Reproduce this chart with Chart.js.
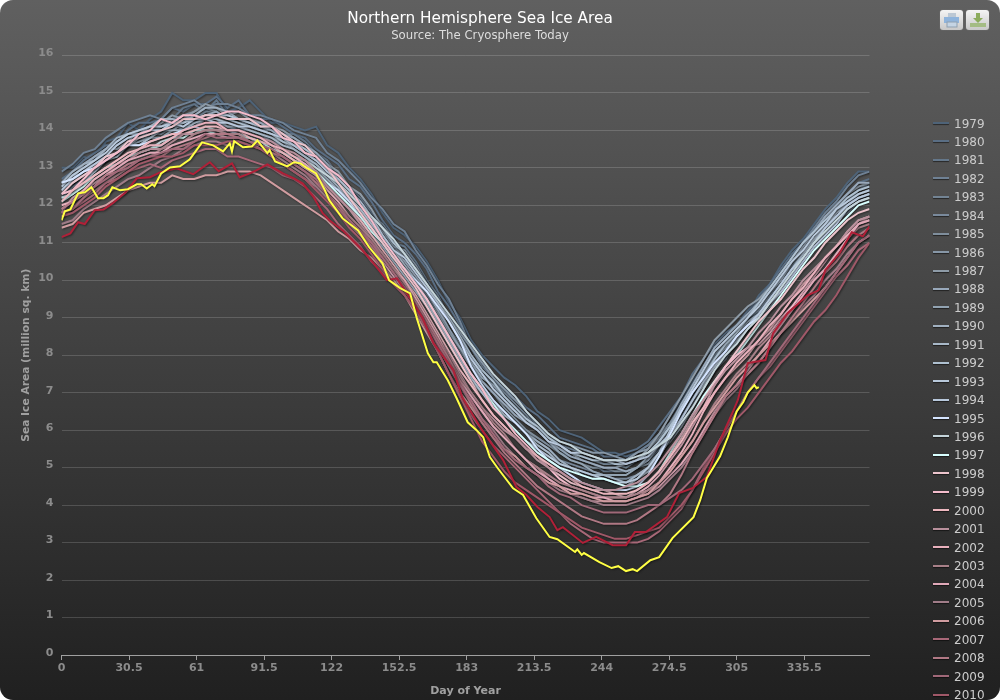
<!DOCTYPE html>
<html>
<head>
<meta charset="utf-8">
<title>Northern Hemisphere Sea Ice Area</title>
<script src="https://cdn.jsdelivr.net/npm/chart.js@4/dist/chart.umd.min.js"></script>
<style>
html, body { margin: 0; padding: 0; background: #fff; overflow: hidden; }
#wrap { position: relative; width: 1000px; height: 700px; overflow: hidden; border-radius: 13px;
  background: linear-gradient(to bottom, #606060 0%, #202020 100%); }
#seaIce { position: absolute; left: 0; top: 0; }
#legend { position: absolute; left: 933px; top: 114.5px; font: 12px "DejaVu Sans", sans-serif; color: #ccc; }
#legend div { height: 18.45px; line-height: 18.45px; white-space: nowrap; }
#legend i { display: inline-block; width: 16px; height: 2px; margin-right: 5px; vertical-align: middle; position: relative; top: -1px; box-shadow: 0 1px 1px rgba(0,0,0,.5); }
.btn { position: absolute; top: 10px; width: 23px; height: 20px; border-radius: 3px; background: linear-gradient(#f4f4f4, #c8c8c8); box-shadow: 0 0 1px #999; }
.btn svg { position: absolute; left: 2px; top: 1px; }
</style>
</head>
<body>
<div id="wrap">
  <canvas id="seaIce" width="1000" height="700"></canvas>
  <div id="legend"></div>
  <div class="btn" style="left:940px"><svg width="19" height="18"><rect x="6" y="2" width="8" height="5" fill="#bcc8d4"/><rect x="2" y="6" width="15" height="6" fill="#8fb4dc"/><rect x="5" y="11" width="10" height="5" fill="#c4d4e4" stroke="#8fa0b0"/></svg></div>
  <div class="btn" style="left:966px"><svg width="19" height="18"><rect x="8" y="2" width="4" height="5" fill="#8cac5c"/><path d="M5 7h10l-5 5z" fill="#8cac5c"/><rect x="2" y="12" width="16" height="4" fill="#a4bc84"/></svg></div>
</div>
<script>
var years = ['1979','1980','1981','1982','1983','1984','1985','1986','1987','1988','1989','1990','1991','1992','1993','1994','1995','1996','1997','1998','1999','2000','2001','2002','2003','2004','2005','2006','2007','2008','2009','2010','2011','2012'];

var colors = ['#4e6378','#5a6e84','#64778a','#6f8194','#738494','#7a8a9c','#7f8e9c','#8797a7','#8e9ba7','#98a8ba','#92a3b2','#a0b0c0','#a8b8c8','#aec0d0','#b8c8da','#b8c8dc','#d4e4ff','#c4d4da','#d8ffff','#ecc4cc','#f4bccc','#eeb8c0','#b8909c','#e8b0bc','#a88088','#e0a8b8','#a07c88','#d09ca0','#a86878','#b07884','#a06878','#a05868','#b02038','#ffff44'];

// sampled every 5 days
var days = [0,5,10,15,20,25,30,35,40,45,50,55,60,65,70,75,80,85,90,95,100,105,110,115,120,125,130,135,140,145,150,155,160,165,170,175,180,185,190,195,200,205,210,215,220,225,230,235,240,245,250,255,260,265,270,275,280,285,290,295,300,305,310,315,320,325,330,335,340,345,350,355,360,365];

var y1979 = [13.0,13.0,13.3,13.2,13.7,13.8,14.2,14.0,14.3,14.5,15.0,14.8,14.8,15.0,15.0,14.5,14.6,14.8,14.5,14.2,14.2,14.1,14.0,14.1,13.6,13.4,13.0,12.7,12.3,11.8,11.4,11.2,10.9,10.5,10.0,9.4,9.0,8.4,8.0,7.7,7.4,7.2,6.9,6.5,6.3,6.0,5.9,5.8,5.6,5.4,5.4,5.3,5.4,5.6,5.9,6.4,6.8,7.3,7.7,8.2,8.5,8.8,9.1,9.6,9.9,10.4,10.8,11.1,11.5,11.9,12.2,12.6,12.9,12.9];
var y1980 = [12.7,12.9,13.2,13.4,13.6,13.6,14.0,14.2,14.2,14.3,14.6,14.5,14.7,14.7,14.9,14.6,14.8,14.4,14.3,14.3,14.1,13.9,13.8,13.5,13.3,13.1,12.7,12.5,12.1,11.6,11.2,11.0,10.7,10.3,9.7,9.3,8.8,8.2,7.8,7.4,7.1,6.9,6.6,6.4,6.1,5.8,5.7,5.6,5.5,5.3,5.3,5.4,5.5,5.7,6.1,6.5,6.9,7.5,7.9,8.3,8.6,8.8,9.2,9.5,9.9,10.3,10.7,11.0,11.4,11.6,12.0,12.3,12.6,12.7];
var y1981 = [12.4,12.8,13.0,13.1,13.4,13.7,13.8,13.7,14.0,14.1,14.3,14.6,14.7,14.5,14.8,14.4,14.3,14.2,14.1,14.0,13.9,13.9,13.7,13.4,13.2,12.8,12.5,12.2,11.8,11.5,11.0,10.9,10.5,10.0,9.6,9.0,8.6,8.0,7.5,7.2,6.8,6.6,6.2,6.0,5.7,5.4,5.3,5.2,5.1,4.9,4.9,4.9,5.0,5.2,5.5,5.9,6.4,6.9,7.3,7.9,8.2,8.6,8.9,9.2,9.6,10.1,10.5,10.8,11.2,11.5,11.9,12.1,12.4,12.6];
var y1982 = [12.9,13.1,13.4,13.5,13.8,14.0,14.2,14.3,14.4,14.3,14.6,14.7,14.8,14.6,14.7,14.7,14.6,14.4,14.4,14.3,14.2,14.0,13.9,13.8,13.4,13.2,12.9,12.6,12.2,11.9,11.5,11.3,10.8,10.4,9.9,9.5,8.9,8.2,7.7,7.4,7.0,6.8,6.5,6.1,5.9,5.6,5.5,5.4,5.3,5.2,5.2,5.2,5.4,5.6,5.9,6.2,6.7,7.1,7.5,8.0,8.3,8.7,9.0,9.5,9.8,10.1,10.6,11.0,11.4,11.8,12.1,12.5,12.8,12.9];
var y1983 = [12.5,12.6,12.9,13.2,13.3,13.4,13.7,13.9,13.9,14.1,14.2,14.0,14.3,14.5,14.5,14.3,14.2,14.2,14.0,13.9,13.8,13.8,13.6,13.3,13.0,12.7,12.4,12.1,11.7,11.5,11.1,10.7,10.4,9.9,9.5,9.0,8.5,8.0,7.6,7.3,7.0,6.7,6.4,6.0,5.8,5.6,5.4,5.3,5.2,5.1,5.1,5.0,5.2,5.3,5.6,6.0,6.5,7.1,7.5,8.0,8.3,8.6,9.0,9.2,9.6,10.0,10.4,10.7,11.1,11.4,11.8,12.1,12.4,12.5];
var y1984 = [12.2,12.5,12.7,13.0,13.2,13.3,13.6,13.7,13.9,13.9,14.1,14.3,14.2,14.3,14.2,14.1,14.0,14.0,13.9,13.7,13.6,13.5,13.3,13.1,12.8,12.4,12.2,11.9,11.5,11.2,10.8,10.4,10.0,9.6,9.1,8.6,8.1,7.7,7.2,6.8,6.5,6.2,6.0,5.7,5.5,5.2,5.1,5.0,4.9,4.8,4.7,4.7,4.8,5.0,5.3,5.8,6.2,6.7,7.1,7.6,7.9,8.4,8.7,9.0,9.4,9.7,10.1,10.5,10.9,11.2,11.6,11.8,12.1,12.3];
var y1985 = [12.3,12.6,12.8,13.1,13.3,13.3,13.6,13.8,13.8,14.1,14.3,14.4,14.5,14.6,14.5,14.3,14.3,14.3,14.1,14.1,13.9,13.6,13.5,13.3,13.0,12.8,12.4,12.0,11.7,11.4,10.9,10.6,10.3,9.8,9.2,8.7,8.3,7.8,7.3,7.0,6.6,6.3,6.0,5.8,5.6,5.4,5.2,5.1,5.0,5.0,4.9,4.9,5.0,5.1,5.4,5.7,6.1,6.6,7.1,7.6,8.0,8.3,8.7,9.1,9.4,9.8,10.2,10.6,11.0,11.2,11.6,11.9,12.2,12.3];
var y1986 = [12.4,12.7,12.9,13.2,13.4,13.6,13.8,13.8,14.0,14.1,14.1,14.3,14.4,14.3,14.4,14.4,14.3,14.1,14.0,14.0,13.7,13.6,13.4,13.3,13.0,12.7,12.4,12.0,11.6,11.3,10.9,10.8,10.4,9.9,9.4,9.0,8.6,8.2,7.8,7.4,7.1,6.8,6.5,6.2,5.9,5.7,5.6,5.5,5.4,5.4,5.3,5.2,5.4,5.5,5.8,6.2,6.6,7.0,7.4,7.9,8.2,8.5,8.9,9.1,9.5,9.9,10.3,10.7,11.1,11.3,11.7,12.0,12.3,12.4];
var y1987 = [12.6,12.8,13.0,13.3,13.5,13.5,13.7,14.0,14.0,14.2,14.4,14.3,14.5,14.7,14.6,14.4,14.5,14.3,14.2,14.1,14.0,13.8,13.6,13.4,13.1,12.9,12.5,12.3,11.9,11.4,11.0,10.7,10.3,9.8,9.3,8.7,8.2,7.8,7.3,7.0,6.7,6.5,6.3,6.0,5.8,5.5,5.4,5.2,5.1,5.0,5.0,5.1,5.2,5.5,5.9,6.4,6.9,7.4,7.9,8.4,8.7,9.0,9.3,9.5,9.8,10.2,10.6,11.0,11.3,11.7,12.0,12.3,12.5,12.6];
var y1988 = [12.6,12.7,13.1,13.3,13.5,13.7,13.9,14.0,14.1,14.1,14.2,14.4,14.3,14.4,14.5,14.3,14.3,14.2,14.2,14.0,13.9,13.8,13.6,13.4,13.1,12.7,12.4,12.0,11.6,11.2,10.8,10.5,10.1,9.7,9.2,8.7,8.2,7.7,7.3,7.0,6.7,6.4,6.2,6.0,5.7,5.5,5.3,5.2,5.1,5.0,5.0,4.9,5.0,5.2,5.6,6.1,6.7,7.2,7.7,8.2,8.5,8.8,9.1,9.4,9.7,10.0,10.5,10.9,11.3,11.7,12.0,12.3,12.6,12.6];
var y1989 = [12.5,12.6,12.9,13.0,13.2,13.4,13.6,13.7,13.8,13.8,14.0,14.2,14.1,14.3,14.3,14.1,14.1,14.0,13.9,13.8,13.7,13.5,13.3,13.1,12.8,12.5,12.1,11.7,11.3,11.0,10.6,10.3,9.9,9.5,9.1,8.6,8.2,7.8,7.4,7.2,6.9,6.6,6.3,6.0,5.7,5.4,5.2,5.1,4.9,4.8,4.8,4.8,5.0,5.3,5.7,6.1,6.6,7.0,7.5,7.9,8.2,8.6,8.9,9.1,9.5,9.9,10.3,10.7,11.1,11.5,11.8,12.1,12.3,12.4];
var y1990 = [12.6,12.9,13.1,13.2,13.5,13.8,13.9,13.9,14.1,14.3,14.3,14.2,14.4,14.6,14.6,14.5,14.3,14.2,14.1,14.0,13.8,13.5,13.3,13.0,12.7,12.4,12.0,11.6,11.2,10.9,10.5,10.1,9.7,9.3,8.8,8.3,7.8,7.3,7.0,6.7,6.4,6.2,5.9,5.7,5.5,5.2,5.0,4.9,4.8,4.8,4.7,4.6,4.8,5.0,5.3,5.8,6.3,6.8,7.3,7.7,8.1,8.4,8.7,9.0,9.3,9.7,10.1,10.6,11.0,11.4,11.7,12.0,12.2,12.3];
var y1991 = [12.3,12.6,12.8,12.9,13.2,13.4,13.6,13.6,13.8,14.0,14.0,14.0,14.2,14.3,14.3,14.2,14.1,14.0,13.9,13.8,13.6,13.5,13.3,13.1,12.8,12.5,12.1,11.9,11.5,11.2,10.8,10.4,10.0,9.5,9.0,8.5,8.0,7.5,7.1,6.8,6.4,6.2,5.9,5.6,5.4,5.1,5.0,4.8,4.7,4.7,4.6,4.5,4.7,4.9,5.3,5.8,6.3,6.8,7.2,7.7,8.0,8.4,8.7,9.1,9.4,9.8,10.3,10.7,11.1,11.4,11.8,12.0,12.2,12.3];
var y1992 = [12.2,12.3,12.6,12.9,13.2,13.3,13.6,13.8,13.9,14.0,14.1,14.2,14.4,14.3,14.4,14.3,14.2,14.1,14.0,13.9,13.7,13.6,13.4,13.2,13.0,12.7,12.4,12.0,11.7,11.4,11.0,10.7,10.3,9.9,9.4,9.0,8.5,8.0,7.6,7.3,6.9,6.6,6.3,6.1,5.8,5.6,5.4,5.3,5.2,5.2,5.1,5.1,5.2,5.4,5.7,6.1,6.5,7.0,7.4,7.9,8.3,8.6,9.0,9.4,9.8,10.2,10.6,11.0,11.3,11.6,11.9,12.2,12.4,12.5];
var y1993 = [12.5,12.8,13.0,13.2,13.4,13.7,13.9,14.0,14.1,14.1,14.2,14.2,14.3,14.4,14.4,14.4,14.3,14.2,14.1,14.1,13.9,13.7,13.5,13.3,12.9,12.6,12.2,11.9,11.5,11.1,10.7,10.3,9.9,9.4,8.9,8.4,7.9,7.4,7.0,6.6,6.3,6.0,5.7,5.5,5.3,5.1,5.0,4.9,4.8,4.7,4.6,4.6,4.7,5.0,5.4,6.0,6.6,7.1,7.6,8.1,8.4,8.7,9.0,9.3,9.7,10.1,10.5,10.8,11.2,11.5,11.9,12.1,12.3,12.4];
var y1994 = [12.4,12.7,12.9,13.1,13.3,13.6,13.8,13.9,14.0,14.0,14.2,14.1,14.3,14.3,14.2,14.2,14.1,14.1,14.0,13.9,13.8,13.6,13.4,13.2,12.9,12.7,12.4,12.1,11.7,11.2,10.8,10.6,10.2,9.8,9.4,8.9,8.4,7.9,7.5,7.1,6.8,6.5,6.2,6.0,5.7,5.6,5.4,5.4,5.3,5.2,5.2,5.1,5.2,5.3,5.6,5.9,6.3,6.8,7.3,7.7,8.1,8.5,8.8,9.1,9.5,9.9,10.3,10.6,11.0,11.4,11.7,12.0,12.2,12.3];
var y1995 = [12.6,12.7,12.9,13.0,13.2,13.4,13.6,13.6,13.7,13.8,13.9,14.0,14.1,14.0,14.0,14.0,13.9,13.8,13.7,13.6,13.4,13.2,13.0,12.9,12.6,12.4,12.1,11.7,11.4,11.0,10.6,10.3,10.0,9.7,9.3,8.9,8.4,7.7,7.2,6.8,6.5,6.2,5.9,5.5,5.2,5.0,4.8,4.6,4.5,4.4,4.4,4.4,4.5,4.8,5.3,5.9,6.5,7.0,7.4,7.8,8.1,8.5,8.8,9.0,9.4,9.7,10.1,10.5,10.9,11.2,11.5,11.9,12.1,12.2];
var y1996 = [12.2,12.3,12.6,12.7,12.9,13.1,13.3,13.4,13.5,13.7,13.8,13.9,13.9,14.1,14.0,13.9,13.9,13.8,13.6,13.5,13.4,13.3,13.2,13.0,12.8,12.6,12.3,12.0,11.7,11.4,11.1,10.7,10.3,9.9,9.5,9.1,8.7,8.3,7.9,7.5,7.2,6.9,6.5,6.2,5.9,5.7,5.6,5.4,5.3,5.2,5.2,5.2,5.3,5.4,5.6,5.8,6.2,6.6,7.1,7.6,8.0,8.3,8.7,9.0,9.4,9.8,10.2,10.6,11.0,11.3,11.6,11.9,12.1,12.2];
var y1997 = [12.1,12.3,12.5,12.8,13.0,13.1,13.3,13.4,13.5,13.6,13.8,13.8,14.0,14.0,13.9,13.8,13.8,13.8,13.7,13.5,13.4,13.2,13.1,12.9,12.6,12.3,12.0,11.7,11.3,11.0,10.6,10.3,9.9,9.5,9.0,8.5,8.0,7.5,7.1,6.7,6.3,6.0,5.7,5.4,5.2,5.0,4.9,4.8,4.7,4.7,4.6,4.5,4.5,4.6,4.9,5.4,5.9,6.4,6.9,7.3,7.7,8.0,8.4,8.8,9.2,9.6,10.0,10.4,10.8,11.1,11.4,11.7,12.0,12.1];
var y1998 = [12.3,12.6,12.8,13.0,13.3,13.4,13.7,13.8,13.9,14.0,14.1,14.3,14.3,14.4,14.4,14.3,14.3,14.3,14.1,14.1,13.9,13.7,13.6,13.3,13.0,12.6,12.2,11.8,11.4,11.0,10.6,10.2,9.8,9.3,8.8,8.3,7.8,7.3,6.8,6.4,6.1,5.8,5.5,5.3,5.0,4.8,4.6,4.5,4.4,4.4,4.3,4.2,4.4,4.6,4.9,5.3,5.8,6.3,6.8,7.3,7.7,8.1,8.5,8.9,9.2,9.5,9.9,10.3,10.6,11.0,11.3,11.6,11.8,11.9];
var y1999 = [12.3,12.4,12.7,13.0,13.2,13.4,13.6,13.9,14.0,14.3,14.2,14.4,14.4,14.3,14.4,14.5,14.5,14.4,14.3,14.1,13.8,13.7,13.4,13.3,13.0,12.8,12.5,12.0,11.6,11.1,10.7,10.3,9.9,9.5,9.0,8.5,8.0,7.5,7.1,6.6,6.3,5.9,5.6,5.3,5.0,4.7,4.5,4.4,4.3,4.2,4.2,4.2,4.3,4.5,4.8,5.2,5.6,6.1,6.6,7.2,7.7,8.0,8.2,8.3,8.6,9.0,9.3,9.7,10.1,10.5,10.9,11.2,11.5,11.7];
var y2000 = [12.1,12.4,12.6,12.8,13.0,13.2,13.4,13.5,13.7,13.8,13.9,13.9,14.0,14.1,14.1,14.0,14.0,13.8,13.7,13.6,13.4,13.2,13.0,12.8,12.5,12.2,11.9,11.6,11.2,10.8,10.4,10.0,9.6,9.1,8.6,8.1,7.6,7.2,6.8,6.4,6.1,5.8,5.5,5.3,5.1,4.9,4.7,4.5,4.4,4.3,4.3,4.3,4.4,4.6,4.9,5.3,5.7,6.2,6.6,7.0,7.4,7.7,8.0,8.4,8.7,9.1,9.5,9.9,10.2,10.6,10.9,11.3,11.6,11.7];
var y2001 = [11.8,12.2,12.4,12.6,12.8,13.1,13.2,13.4,13.5,13.5,13.7,13.9,13.9,14.0,14.0,14.0,14.0,13.9,13.8,13.7,13.5,13.4,13.2,12.9,12.5,12.2,11.9,11.5,11.1,10.7,10.3,9.9,9.5,9.0,8.5,8.0,7.5,7.0,6.6,6.3,6.0,5.8,5.5,5.2,5.0,4.9,4.7,4.6,4.5,4.4,4.4,4.5,4.6,4.8,5.1,5.5,5.9,6.4,6.8,7.2,7.6,7.9,8.2,8.6,8.9,9.3,9.6,10.0,10.3,10.6,10.9,11.3,11.6,11.7];
var y2002 = [12.0,12.1,12.4,12.7,12.9,13.1,13.3,13.5,13.6,13.6,13.8,14.0,14.1,14.2,14.2,14.0,14.0,13.9,13.8,13.6,13.5,13.3,13.1,12.8,12.4,12.1,11.7,11.4,11.0,10.7,10.3,10.0,9.5,9.0,8.5,7.9,7.4,6.9,6.5,6.1,5.8,5.5,5.2,5.0,4.7,4.5,4.3,4.2,4.1,4.1,4.1,4.1,4.2,4.4,4.6,5.0,5.4,5.9,6.5,7.0,7.4,7.8,8.1,8.4,8.8,9.1,9.5,9.8,10.2,10.6,10.9,11.2,11.5,11.6];
var y2003 = [11.7,11.9,12.2,12.4,12.6,12.8,13.0,13.2,13.3,13.5,13.6,13.7,13.9,14.0,14.0,13.9,13.9,13.7,13.6,13.4,13.3,13.1,12.9,12.6,12.3,12.0,11.7,11.4,11.1,10.7,10.3,9.9,9.4,8.9,8.4,7.9,7.4,7.0,6.6,6.2,5.9,5.5,5.2,5.0,4.8,4.6,4.5,4.4,4.3,4.2,4.2,4.2,4.3,4.4,4.6,4.9,5.3,5.7,6.2,6.7,7.1,7.5,7.8,8.2,8.5,8.9,9.2,9.6,10.0,10.3,10.7,11.1,11.4,11.5];
var y2004 = [11.9,12.1,12.3,12.5,12.8,13.0,13.2,13.3,13.4,13.4,13.6,13.7,13.8,13.9,13.9,13.8,13.8,13.7,13.5,13.3,13.1,12.9,12.7,12.5,12.2,11.9,11.6,11.3,10.9,10.5,10.1,9.7,9.3,8.8,8.3,7.8,7.3,6.9,6.5,6.1,5.8,5.5,5.2,4.9,4.7,4.5,4.4,4.3,4.2,4.2,4.1,4.1,4.2,4.3,4.5,4.8,5.1,5.5,6.0,6.5,6.9,7.2,7.6,8.0,8.4,8.8,9.2,9.6,10.0,10.3,10.7,11.1,11.5,11.6];
var y2005 = [11.5,11.6,11.9,12.1,12.3,12.5,12.7,12.8,13.0,13.2,13.3,13.5,13.6,13.7,13.7,13.6,13.7,13.6,13.5,13.4,13.2,13.0,12.8,12.5,12.2,11.9,11.5,11.2,10.8,10.4,10.0,9.6,9.2,8.7,8.2,7.7,7.2,6.7,6.3,6.0,5.6,5.3,5.0,4.8,4.6,4.4,4.3,4.2,4.1,4.0,4.0,4.0,4.1,4.2,4.4,4.7,5.0,5.4,5.9,6.4,6.8,7.1,7.5,7.8,8.2,8.6,8.9,9.3,9.6,10.0,10.3,10.7,11.0,11.2];
var y2006 = [11.4,11.5,11.8,11.9,12.0,12.2,12.4,12.5,12.6,12.6,12.8,12.7,12.7,12.8,12.8,12.9,12.9,12.9,12.8,12.6,12.4,12.2,12.0,11.8,11.6,11.3,11.1,10.8,10.6,10.3,10.0,9.6,9.1,8.6,8.1,7.5,7.0,6.6,6.2,5.8,5.5,5.3,5.0,4.8,4.6,4.5,4.3,4.3,4.2,4.1,4.1,4.1,4.2,4.3,4.6,4.9,5.3,5.7,6.2,6.6,7.0,7.4,7.7,8.0,8.3,8.6,8.9,9.2,9.5,9.8,10.2,10.6,11.0,11.2];
var y2007 = [11.8,11.9,12.1,12.3,12.6,12.7,12.9,13.0,13.1,13.0,13.2,13.3,13.4,13.5,13.5,13.3,13.3,13.2,13.1,13.0,12.8,12.7,12.5,12.2,11.9,11.5,11.2,10.9,10.5,10.2,9.9,9.6,9.2,8.7,8.1,7.5,6.9,6.4,6.0,5.6,5.3,5.0,4.7,4.4,4.1,3.8,3.5,3.3,3.1,3.0,3.0,3.0,3.0,3.1,3.3,3.6,3.9,4.4,5.0,5.5,6.0,6.5,7.0,7.4,7.7,8.1,8.5,8.9,9.3,9.7,10.1,10.4,10.8,11.0];
var y2008 = [11.9,12.1,12.3,12.5,12.8,12.9,13.1,13.2,13.3,13.3,13.5,13.6,13.7,13.8,13.9,13.9,13.8,13.7,13.6,13.4,13.3,13.1,12.9,12.6,12.3,12.0,11.6,11.3,10.9,10.6,10.2,9.8,9.4,8.9,8.4,7.9,7.3,6.7,6.2,5.8,5.4,5.1,4.8,4.5,4.3,4.1,3.9,3.7,3.6,3.5,3.5,3.5,3.6,3.8,4.0,4.3,4.8,5.4,5.9,6.4,6.9,7.2,7.5,7.8,8.2,8.6,9.0,9.4,9.8,10.2,10.5,10.9,11.2,11.4];
var y2009 = [11.8,11.9,12.2,12.5,12.7,12.9,13.0,13.2,13.3,13.4,13.5,13.5,13.7,13.9,13.8,13.8,13.8,13.7,13.6,13.5,13.3,13.1,12.9,12.7,12.3,11.9,11.6,11.3,11.0,10.6,10.2,9.8,9.3,8.8,8.3,7.8,7.2,6.8,6.3,5.9,5.5,5.2,5.0,4.8,4.5,4.3,4.2,4.0,3.9,3.8,3.8,3.8,3.9,4.0,4.0,4.2,4.4,4.7,5.1,5.5,6.0,6.5,7.0,7.4,7.8,8.2,8.6,9.0,9.4,9.8,10.2,10.6,11.0,11.2];
var y2010 = [11.7,11.8,12.0,12.2,12.5,12.7,12.9,13.1,13.2,13.3,13.3,13.4,13.6,13.6,13.6,13.7,13.7,13.6,13.5,13.3,13.1,12.9,12.7,12.4,12.1,11.8,11.4,11.1,10.7,10.3,9.9,9.6,9.2,8.7,8.1,7.5,6.9,6.3,5.7,5.3,4.9,4.6,4.4,4.2,4.0,3.8,3.6,3.4,3.3,3.2,3.1,3.1,3.2,3.3,3.4,3.7,4.0,4.4,4.9,5.4,5.9,6.3,6.6,7.0,7.4,7.8,8.1,8.5,8.9,9.2,9.6,10.1,10.6,11.0];

// 2011 and 2012 read more closely, own day lists
var days2011 = [0,4,7.5,10.5,15,19,23,29,34,40,44.5,52,59.5,67,71,77,80.5,85,88,93,100,105,109,114,118,121,127,136,141,147,151.5,157.5,163,168,177,181,190,199.5,205.5,210,215,220.5,224,226.5,235.5,241.5,249,255,259,264,273.5,279,285,291.5,297.5,303,305.5,310,318,321.5,328,337,342,345,351.5,357,362,365];
var y2011 = [11.15,11.25,11.55,11.5,11.87,11.89,12.05,12.35,12.72,12.75,12.88,12.99,12.83,13.15,12.91,13.12,12.75,12.85,12.93,13.09,12.85,12.72,12.58,12.21,11.79,11.6,11.33,10.8,10.45,10.0,10.05,9.52,9.01,8.32,7.6,6.88,6.0,5.2,4.48,4.27,3.95,3.68,3.33,3.41,2.99,3.15,2.93,2.93,3.28,3.28,3.68,4.32,4.45,4.75,5.73,6.45,6.8,7.79,7.87,8.59,9.12,9.6,9.73,10.27,10.72,11.28,11.17,11.44];

var days2012 = [0,1.5,4,7.5,10.5,13.5,16.5,19,21,23,26.5,30,34,36,38.5,41,42,45,49,53.5,58,63.5,68.5,73,76,77,78,82,86,88.5,93,94,96.5,102,105,108,111,115,119,121,127,134,139,145,148,153,157.5,160.5,165.5,168,169.5,174.5,178.5,183.5,187.5,190.5,193.5,197,204,208.5,214.5,220.5,224,232,233,235,236,243,248.5,251.5,255,258,260,266,270,276,285.5,288.5,291.5,297.5,301,305,308,310,313,314,315];
var y2012 = [11.6,11.84,11.89,12.32,12.35,12.48,12.19,12.19,12.27,12.48,12.4,12.43,12.56,12.56,12.45,12.56,12.51,12.85,13.01,13.04,13.23,13.68,13.6,13.44,13.65,13.44,13.71,13.55,13.57,13.73,13.39,13.47,13.17,13.04,13.15,13.12,12.99,12.85,12.4,12.13,11.65,11.33,10.88,10.45,10.0,9.79,9.65,8.99,8.05,7.81,7.81,7.33,6.85,6.21,6.0,5.81,5.28,4.99,4.45,4.27,3.65,3.15,3.09,2.75,2.82,2.67,2.72,2.48,2.32,2.37,2.24,2.29,2.24,2.53,2.61,3.12,3.68,4.13,4.72,5.3,5.81,6.5,6.75,7.0,7.2,7.12,7.15];

var allSeries = [y1979,y1980,y1981,y1982,y1983,y1984,y1985,y1986,y1987,y1988,y1989,y1990,y1991,y1992,y1993,y1994,y1995,y1996,y1997,y1998,y1999,y2000,y2001,y2002,y2003,y2004,y2005,y2006,y2007,y2008,y2009,y2010,y2011,y2012];

var yTicks = [0,1,2,3,4,5,6,7,8,9,10,11,12,13,14,15,16];

function dayList(i){
    if (years[i] == '2011') return days2011;
    if (years[i] == '2012') return days2012;
    return days;
}

var datasets = allSeries.map(function(vals, i){
    var dl = dayList(i);
    return {
        label: years[i],
        borderColor: colors[i],
        borderWidth: 2,
        pointRadius: 0,
        tension: 0,
        order: years.length - i,   // later years on top
        data: vals.map(function(v, k){ return {x: dl[k], y: v}; })
    };
});

// legend list, runs off the bottom of the picture like the original
var legendBox = document.getElementById('legend');
years.forEach(function(y, i){
    var row = document.createElement('div');
    row.innerHTML = '<i style="background:' + colors[i] + '"></i>' + y;
    legendBox.appendChild(row);
});

// soft dark shadow under the lines
var lineShadow = {
    id: 'lineShadow',
    beforeDatasetsDraw: function(chart){
        var c = chart.ctx;
        c.save();
        c.shadowColor = 'rgba(0,0,0,0.45)';
        c.shadowBlur = 2;
        c.shadowOffsetX = 1;
        c.shadowOffsetY = 1;
    },
    afterDatasetsDraw: function(chart){ chart.ctx.restore(); }
};

// title sits off centre in the original
var shiftTitle = {
    id: 'shiftTitle',
    afterLayout: function(chart){
        chart.boxes.forEach(function(b){
            if (b.position == 'top' && b.options && b.options.text){
                b.left = 0;
                b.right = 960;
            }
        });
    }
};

var ctx = document.getElementById('seaIce').getContext('2d');
var chart = new Chart(ctx, {
    type: 'line',
    data: { datasets: datasets },
    plugins: [lineShadow, shiftTitle],
    options: {
        responsive: false,
        animation: false,
        layout: { padding: { left: 16, right: 130.5, top: 0, bottom: 0 } },
        plugins: {
            legend: { display: false },
            tooltip: { enabled: false },
            title: {
                display: true,
                text: 'Northern Hemisphere Sea Ice Area',
                color: '#fff',
                font: { family: 'DejaVu Sans', size: 15.3, weight: 'normal' },
                padding: { top: 10, bottom: 1 }
            },
            subtitle: {
                display: true,
                text: 'Source: The Cryosphere Today',
                color: '#ddd',
                font: { family: 'DejaVu Sans', size: 11.7, weight: 'normal' },
                padding: { top: 0, bottom: 12 }
            }
        },
        scales: {
            x: {
                type: 'linear',
                min: 0,
                max: 365,
                afterFit: function(s){ s.height = 45; },
                border: { color: '#a0a0a0' },
                grid: { drawOnChartArea: false, tickLength: 5, tickColor: '#a0a0a0' },
                ticks: {
                    stepSize: 30.5,
                    includeBounds: false,
                    autoSkip: false,
                    maxRotation: 0,
                    color: '#8c8c8c',
                    padding: 2,
                    font: { family: 'DejaVu Sans', size: 11, weight: 'bold' },
                    callback: function(v){ return v; }
                },
                title: {
                    display: true,
                    text: 'Day of Year',
                    color: '#a0a0a0',
                    font: { family: 'DejaVu Sans', size: 11, weight: 'bold' },
                    padding: { top: 0, bottom: 2 }
                }
            },
            y: {
                min: 0,
                max: 16,
                afterFit: function(s){ s.width = 45.5; },
                afterBuildTicks: function(s){ s.ticks = yTicks.map(function(v){ return {value: v}; }); },
                border: { display: false },
                grid: { color: 'rgba(255,255,255,0.16)', drawTicks: false },
                ticks: {
                    color: '#8c8c8c',
                    padding: 8,
                    labelOffset: -2,
                    font: { family: 'DejaVu Sans', size: 11, weight: 'bold' }
                },
                title: {
                    display: true,
                    text: 'Sea Ice Area (million sq. km)',
                    color: '#a0a0a0',
                    font: { family: 'DejaVu Sans', size: 10.7, weight: 'bold' },
                    padding: { top: 4, bottom: 0 }
                }
            }
        }
    }
});
</script>
</body>
</html>
